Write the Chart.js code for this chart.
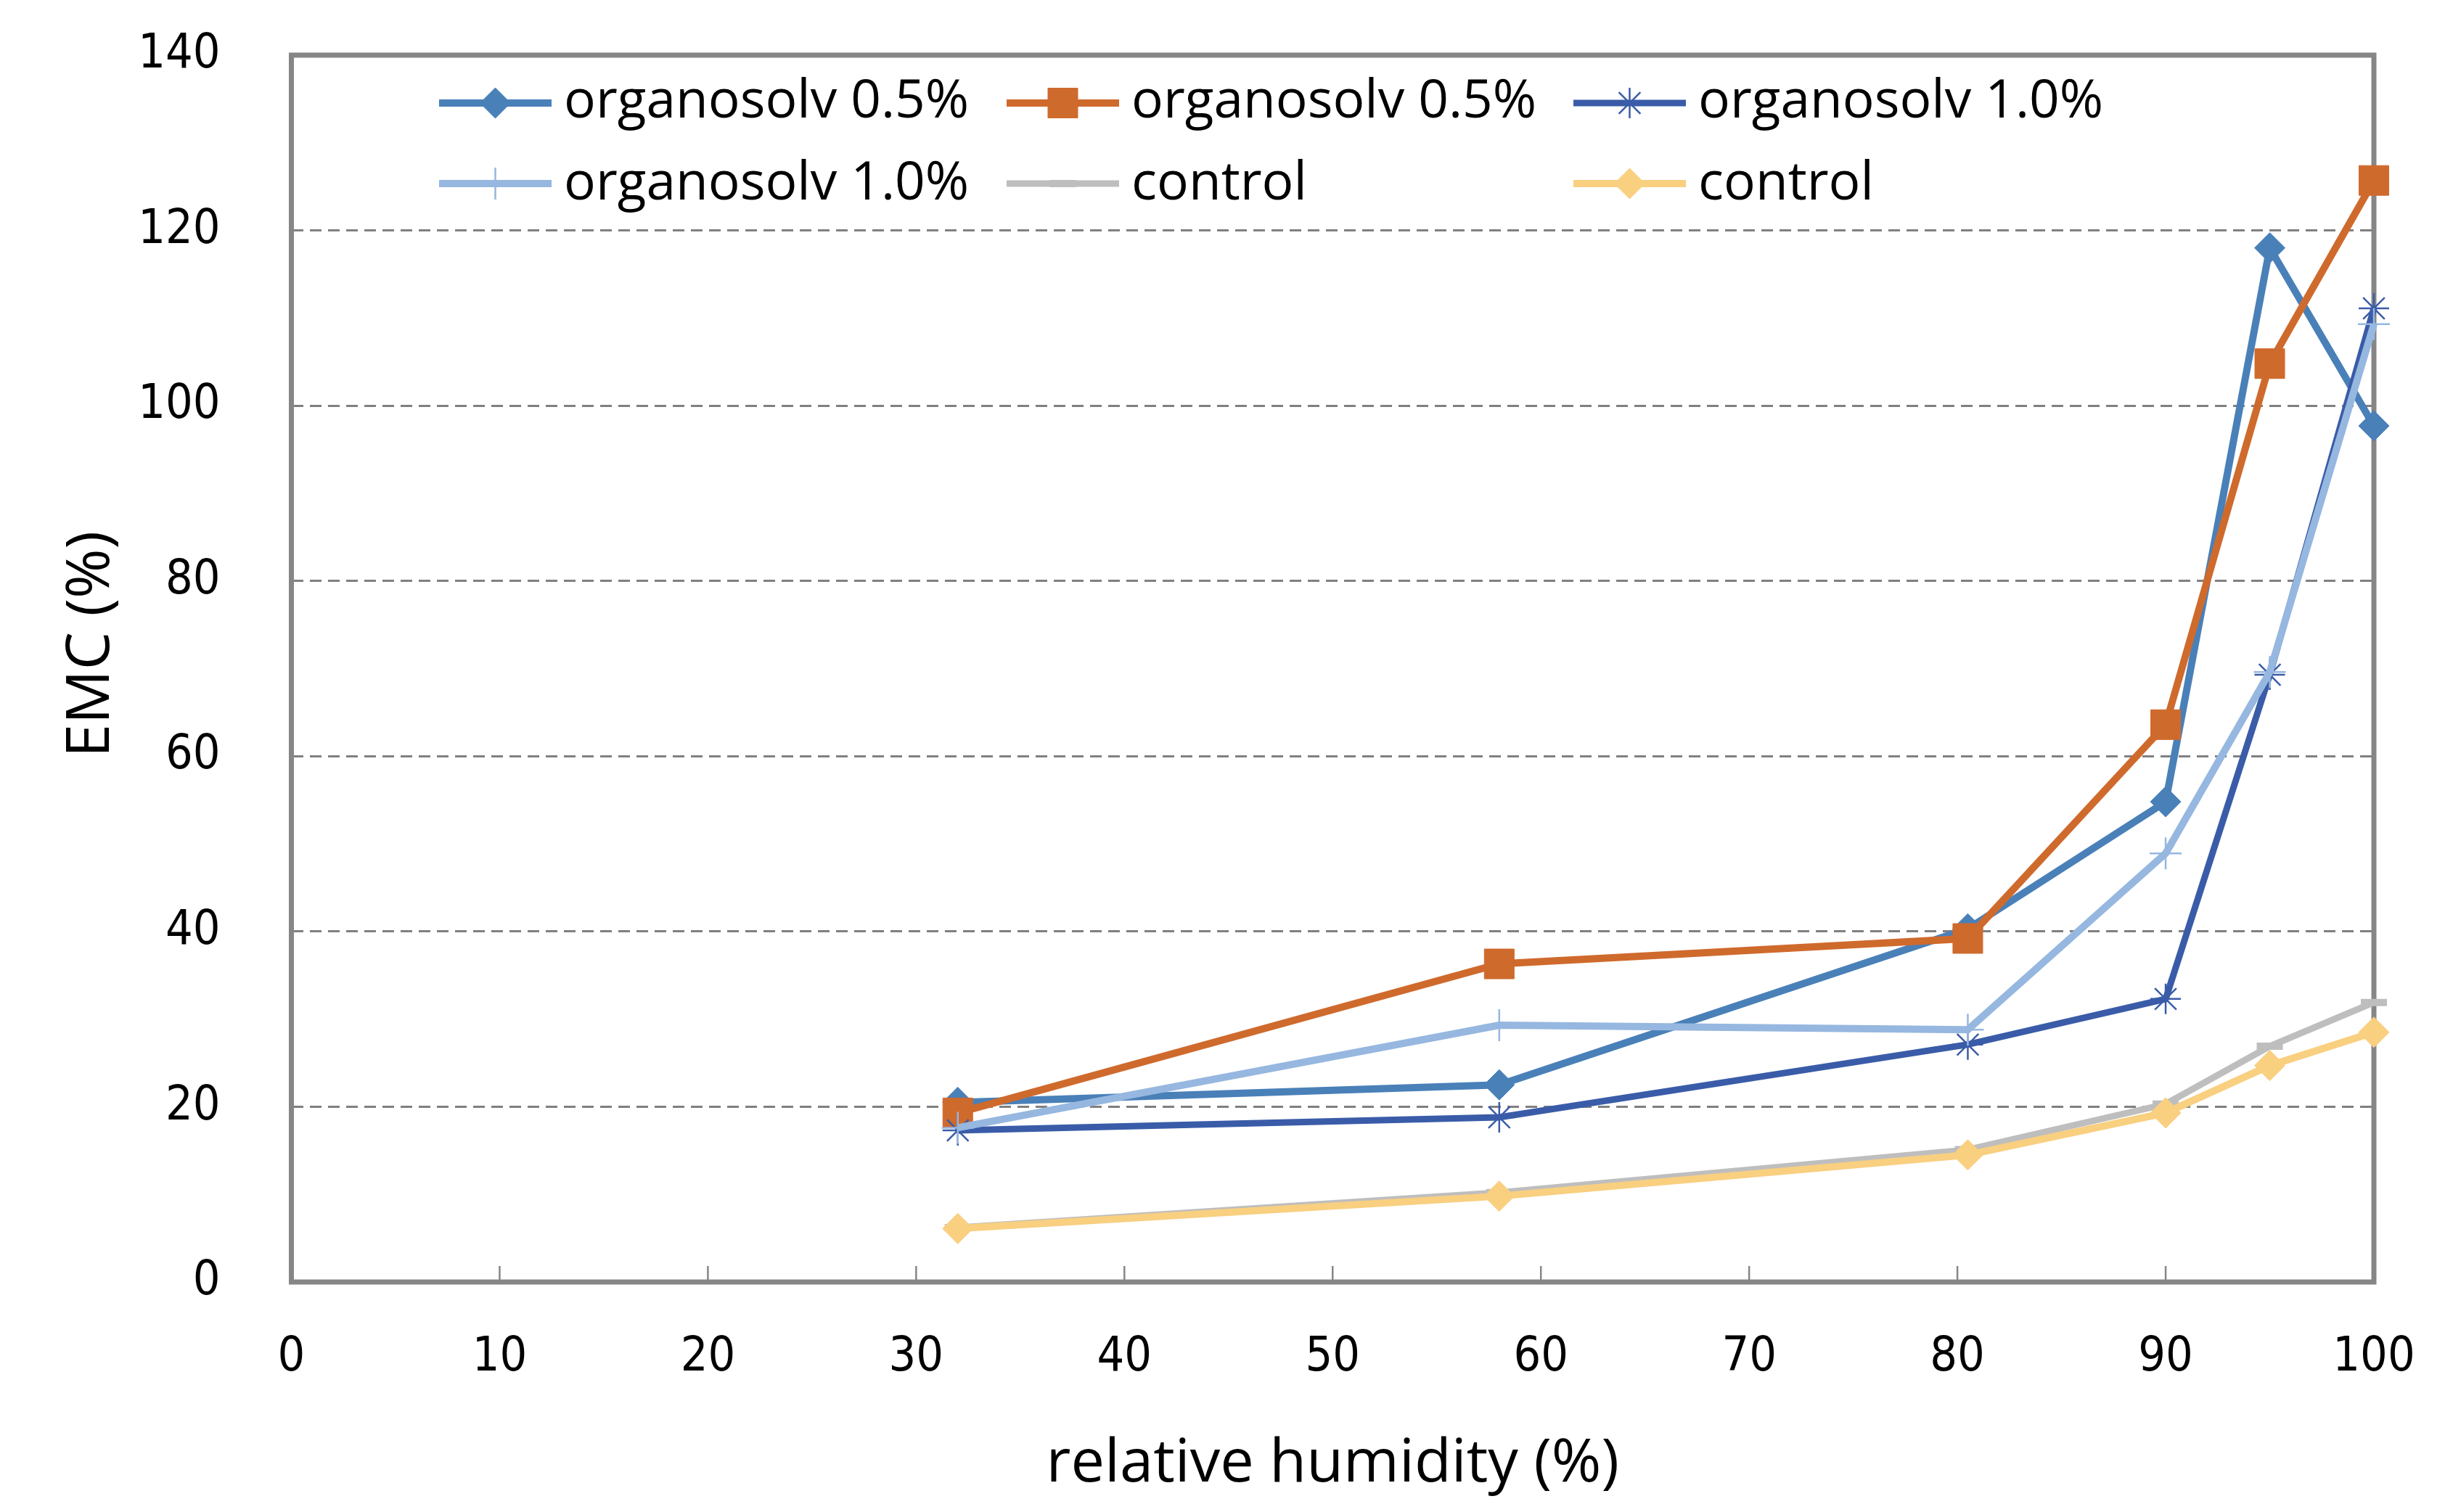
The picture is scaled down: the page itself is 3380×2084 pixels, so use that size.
<!DOCTYPE html>
<html>
<head>
<meta charset="utf-8">
<script src="https://cdn.jsdelivr.net/npm/chart.js@4"></script>
<style>
  html, body { margin: 0; padding: 0; background: #ffffff; }
  #wrap { width: 3380px; height: 2084px; }
</style>
</head>
<body>
<div id="wrap"><canvas id="c" width="3380" height="2084"></canvas></div>
<script>
// ---- data ----
const relativeHumidity = [32, 58, 80.5, 90, 95, 100];
const seriesLabels = ['organosolv 0.5%', 'organosolv 0.5%', 'organosolv 1.0%', 'organosolv 1.0%', 'control', 'control'];
const emcOrgano05Blue   = [20.5, 22.5, 40.3, 54.8, 118.0, 97.7];
const emcOrgano05Orange = [19.3, 36.3, 39.2, 63.6, 104.8, 125.7];
const emcOrgano10Dark   = [17.3, 18.8, 27.1, 32.3, 69.3, 111.1];
const emcOrgano10Light  = [17.6, 29.3, 28.8, 48.9, 69.6, 109.3];
const emcControlGray    = [6.2, 10.2, 15.1, 20.3, 26.9, 31.9];
const emcControlYellow  = [6.1, 9.8, 14.5, 19.3, 24.7, 28.5];
const xTicks = [0, 10, 20, 30, 40, 50, 60, 70, 80, 90, 100];
const yTicks = [0, 20, 40, 60, 80, 100, 120, 140];

const seriesValues = [emcOrgano05Blue, emcOrgano05Orange, emcOrgano10Dark, emcOrgano10Light, emcControlGray, emcControlYellow];
const styles = [
  { color: '#4A80B8', lw: 10, pointStyle: 'rectRot', r: 21, pbw: 1 },
  { color: '#CF6A2D', lw: 10, pointStyle: 'rect', r: 29, pbw: 1 },
  { color: '#3A5CA8', lw: 9, pointStyle: 'star', r: 21, pbw: 2.5 },
  { color: '#96B7DF', lw: 10, pointStyle: 'cross', r: 22, pbw: 2.5 },
  { color: '#BEBEBE', lw: 9, pointStyle: 'line', r: 18, pbw: 10 },
  { color: '#F9CF80', lw: 10, pointStyle: 'rectRot', r: 21, pbw: 1 }
];

const datasets = seriesValues.map((vals, i) => ({
  label: seriesLabels[i],
  data: relativeHumidity.map((x, j) => ({ x: x, y: vals[j] })),
  borderColor: styles[i].color,
  backgroundColor: styles[i].color,
  borderWidth: styles[i].lw,
  pointStyle: styles[i].pointStyle,
  pointRadius: styles[i].r,
  pointBorderWidth: styles[i].pbw,
  pointBorderColor: styles[i].color,
  pointBackgroundColor: styles[i].color,
  tension: 0,
  clip: false,
  order: seriesValues.length - i
}));

const AXIS_GRAY = '#868686';

const framePlugin = {
  id: 'frame',
  beforeDatasetsDraw(chart) {
    const { ctx, chartArea: a, scales } = chart;
    ctx.save();
    ctx.strokeStyle = AXIS_GRAY;
    ctx.lineWidth = 2.5;
    xTicks.forEach(v => {
      const px = scales.x.getPixelForValue(v);
      ctx.beginPath();
      ctx.moveTo(px, a.bottom);
      ctx.lineTo(px, a.bottom - 22);
      ctx.stroke();
    });
    ctx.lineWidth = 7;
    ctx.strokeRect(a.left, a.top, a.right - a.left, a.bottom - a.top);
    ctx.restore();
  }
};

function drawMarker(ctx, st, x, y) {
  const H = (window.Chart && Chart.helpers) ? Chart.helpers : null;
  ctx.save();
  ctx.fillStyle = st.color;
  ctx.strokeStyle = st.color;
  ctx.lineWidth = st.pbw;
  if (H && H.drawPoint) {
    H.drawPoint(ctx, { pointStyle: st.pointStyle, radius: st.r, borderWidth: st.pbw, rotation: 0 }, x, y);
  }
  ctx.restore();
}

const legendPlugin = {
  id: 'insideLegend',
  afterDraw(chart) {
    const { ctx } = chart;
    const colX = [605, 1387, 2168];
    const lineY = [142, 253];
    const textY = [162, 275];
    const lineLen = 155;
    ctx.save();
    chart.data.datasets.forEach((ds, i) => {
      const col = i % 3, row = Math.floor(i / 3);
      const st = styles[i];
      const x0 = colX[col], y = lineY[row];
      ctx.strokeStyle = st.color;
      ctx.lineWidth = st.lw;
      ctx.lineCap = 'butt';
      ctx.beginPath();
      ctx.moveTo(x0, y);
      ctx.lineTo(x0 + lineLen, y);
      ctx.stroke();
      drawMarker(ctx, st, x0 + lineLen / 2, y);
      ctx.fillStyle = '#000000';
      ctx.font = '73px "Open Sans"';
      ctx.textAlign = 'left';
      ctx.textBaseline = 'alphabetic';
      ctx.fillText(ds.label, x0 + lineLen + 17, textY[row]);
    });
    const yt = chart.options.scales.y.title;
    ctx.translate(150, 888);
    ctx.rotate(-Math.PI / 2);
    ctx.font = '83px "Open Sans"';
    ctx.fillStyle = '#000000';
    ctx.textAlign = 'center';
    ctx.textBaseline = 'alphabetic';
    ctx.fillText(yt.text, 0, 0);
    ctx.restore();
  }
};

function zeroScalePadding(scale) {
  scale.paddingTop = 0;
  scale.paddingBottom = 0;
  scale.paddingLeft = 0;
  scale.paddingRight = 0;
}

const chart = new Chart(document.getElementById('c'), {
  type: 'line',
  data: { datasets: datasets },
  options: {
    responsive: false,
    animation: false,
    devicePixelRatio: 1,
    layout: { padding: { left: 0, top: 76, right: 109, bottom: 0 } },
    plugins: {
      legend: { display: false },
      tooltip: { enabled: false },
      title: { display: false }
    },
    scales: {
      x: {
        type: 'linear',
        min: 0, max: 100,
        afterFit(scale) { scale.height = 317; zeroScalePadding(scale); },
        afterBuildTicks(scale) { scale.ticks = xTicks.map(v => ({ value: v })); },
        ticks: {
          padding: 65,
          color: '#000000',
          font: { family: "'DejaVu Sans Condensed', 'DejaVu Sans'", size: 66 },
          maxRotation: 0, autoSkip: false
        },
        grid: { display: false, drawTicks: false },
        border: { display: false },
        title: {
          display: true,
          text: 'relative humidity (%)',
          color: '#000000',
          font: { family: 'Open Sans', size: 83 },
          padding: { top: 0, bottom: 16 }
        }
      },
      y: {
        type: 'linear',
        min: 0, max: 140,
        afterFit(scale) { scale.width = 401.5; zeroScalePadding(scale); },
        afterBuildTicks(scale) { scale.ticks = yTicks.map(v => ({ value: v })); },
        ticks: {
          padding: 98,
          color: '#000000',
          font: { family: "'DejaVu Sans Condensed', 'DejaVu Sans'", size: 66 }
        },
        grid: { color: '#808080', lineWidth: 3, drawTicks: false },
        border: { display: false, dash: [16, 9] },
        title: { display: false, text: 'EMC (%)' }
      }
    }
  },
  plugins: [framePlugin, legendPlugin]
});

// nudge layout padding so the plot frame lands where the reference has it
const targetArea = { left: 401.5, top: 76, right: 3271, bottom: 1767 };
for (let k = 0; k < 5; k++) {
  const a = chart.chartArea;
  const p = chart.options.layout.padding;
  const dT = targetArea.top - a.top;
  const dR = a.right - targetArea.right;
  const dL = targetArea.left - a.left;
  const dB = a.bottom - targetArea.bottom;
  if (Math.abs(dT) < 0.5 && Math.abs(dR) < 0.5 && Math.abs(dL) < 0.5 && Math.abs(dB) < 0.5) break;
  p.top += dT; p.right += dR; p.left += dL; p.bottom += dB;
  chart.update();
}
</script>
</body>
</html>
